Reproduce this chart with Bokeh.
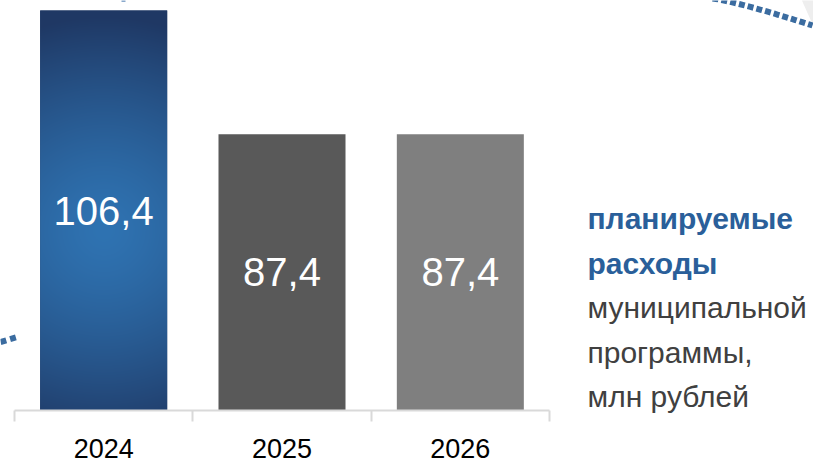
import numpy as np
from bokeh.plotting import figure
from bokeh.models import Range1d, LinearAxis, FixedTicker, ColumnDataSource
from bokeh.core.properties import value
from bokeh.embed import file_html
from bokeh.resources import INLINE

# --- data -------------------------------------------------------------
years = ["2024", "2025", "2026"]
spending = [106.4, 87.4, 87.4]          # млн рублей
value_labels = ["106,4", "87,4", "87,4"]
bar_colors = ["#1f3864", "#595959", "#7f7f7f"]
caption_bold = ["планируемые", "расходы"]
caption_regular = ["муниципальной", "программы,", "млн рублей"]

# --- canvas geometry --------------------------------------------------
W, H = 813, 462
BASE = 45.0                 # value axis minimum
LEFT_PX, AXIS_PX = 14, 410  # pixel position of category 0 edge / value axis
CAT_PX = 535 / 3            # pixels per category slot
TOP_PX = 10                 # where the tallest bar ends
Y_SCALE = (AXIS_PX - TOP_PX) / (max(spending) - BASE)  # px per unit


def dx(px):
    return (px - LEFT_PX) / CAT_PX


def dy(py):
    return BASE + (AXIS_PX - py) / Y_SCALE


FONT = "Liberation Sans, Arial"

p = figure(width=W, height=H, output_backend="svg", toolbar_location=None,
           x_range=Range1d(dx(0), dx(W)), y_range=Range1d(dy(H), dy(0)),
           x_axis_location=None, y_axis_location=None,
           min_border=0, outline_line_color=None, background_fill_color="white",
           border_fill_color="white")
p.xgrid.visible = False
p.ygrid.visible = False

# --- slide decoration: dotted arcs ------------------------------------
p.patch([dx(801), dx(814), dx(814)], [dy(-1), dy(-1), dy(28)],
        fill_color="#eeeeee", line_color=None)
arc_px = np.linspace(712, 812, 30)
arc_py = -2 + 27 * ((arc_px - 712) / 100) ** 1.2
p.line(dx(arc_px), dy(arc_py), line_color="#3b6ca0", line_width=6,
       line_dash="6 3")
p.line([dx(0), dx(17)], [dy(341.5), dy(336.5)], line_color="#3b6ca0",
       line_width=6, line_dash="6 4")
p.line([dx(121), dx(125)], [dy(0.5), dy(0.5)], line_color="#8aa9cc", line_width=2)

# --- bars -------------------------------------------------------------
xs = [i + 0.5 for i in range(len(years))]
bar_w = 127 / CAT_PX
src = ColumnDataSource(dict(x=xs, top=spending, color=bar_colors,
                            label=value_labels,
                            mid=[(BASE + v) / 2 for v in spending]))
p.vbar(x="x", top="top", bottom=BASE, width=bar_w, fill_color="color",
       line_color=None, source=src)

# radial blue gradient for the first bar, sized from its value
nx = int(round(bar_w * CAT_PX))
ny = int(round((spending[0] - BASE) * Y_SCALE))
jj, ii = np.meshgrid(np.arange(nx) + 0.5, np.arange(ny) + 0.5)  # ii: rows from bottom
cx, cy = nx / 2, ny * 0.45
d = np.sqrt((jj - cx) ** 2 + (ii - cy) ** 2) / 215.0
t = np.clip(d, 0, 1) ** 1.4
c0 = np.array([47, 115, 178])
c1 = np.array([31, 56, 100])
rgb = c0[None, None, :] * (1 - t[..., None]) + c1[None, None, :] * t[..., None]
img = np.empty((ny, nx), dtype=np.uint32)
view = img.view(dtype=np.uint8).reshape((ny, nx, 4))
view[..., 0] = rgb[..., 0].astype(np.uint8)
view[..., 1] = rgb[..., 1].astype(np.uint8)
view[..., 2] = rgb[..., 2].astype(np.uint8)
view[..., 3] = 255
p.image_rgba(image=[img], x=xs[0] - bar_w / 2, y=BASE, dw=bar_w,
             dh=spending[0] - BASE)

# value labels centred in the bars
p.text(x="x", y="mid", text="label", source=src, text_color="white",
       text_font=value(FONT), text_font_size="40px", text_align="center",
       text_baseline="middle")

# --- category axis: boundary ticks (minor) + centred year labels -------
cat_axis = LinearAxis(fixed_location=BASE,
                      ticker=FixedTicker(ticks=xs, minor_ticks=[0, 1, 2, 3]),
                      bounds=(0, len(years)),
                      axis_line_color="#d9d9d9", axis_line_width=2,
                      major_tick_line_color=None, major_tick_in=0, major_tick_out=0,
                      minor_tick_line_color="#d9d9d9", minor_tick_line_width=2,
                      minor_tick_in=0, minor_tick_out=11,
                      major_label_overrides={x: y for x, y in zip(xs, years)},
                      major_label_standoff=17,
                      major_label_text_font=FONT,
                      major_label_text_font_size="27px",
                      major_label_text_color="black")
p.add_layout(cat_axis, "below")

# --- caption on the right ----------------------------------------------
cap_x = dx(587)
bold_y = [dy(218 + 44.5 * i) for i in range(len(caption_bold))]
reg_y = [dy(218 + 44.5 * (i + len(caption_bold))) for i in range(len(caption_regular))]
p.text(x=[cap_x] * len(caption_bold), y=bold_y, text=caption_bold,
       text_color="#2a5f9a", text_font=value(FONT), text_font_style="bold",
       text_font_size="30px", text_baseline="alphabetic")
p.text(x=[cap_x] * len(caption_regular), y=reg_y, text=caption_regular,
       text_color="#404040", text_font=value(FONT),
       text_font_size="30px", text_baseline="alphabetic")

open("out.html", "w").write(file_html(p, INLINE))
